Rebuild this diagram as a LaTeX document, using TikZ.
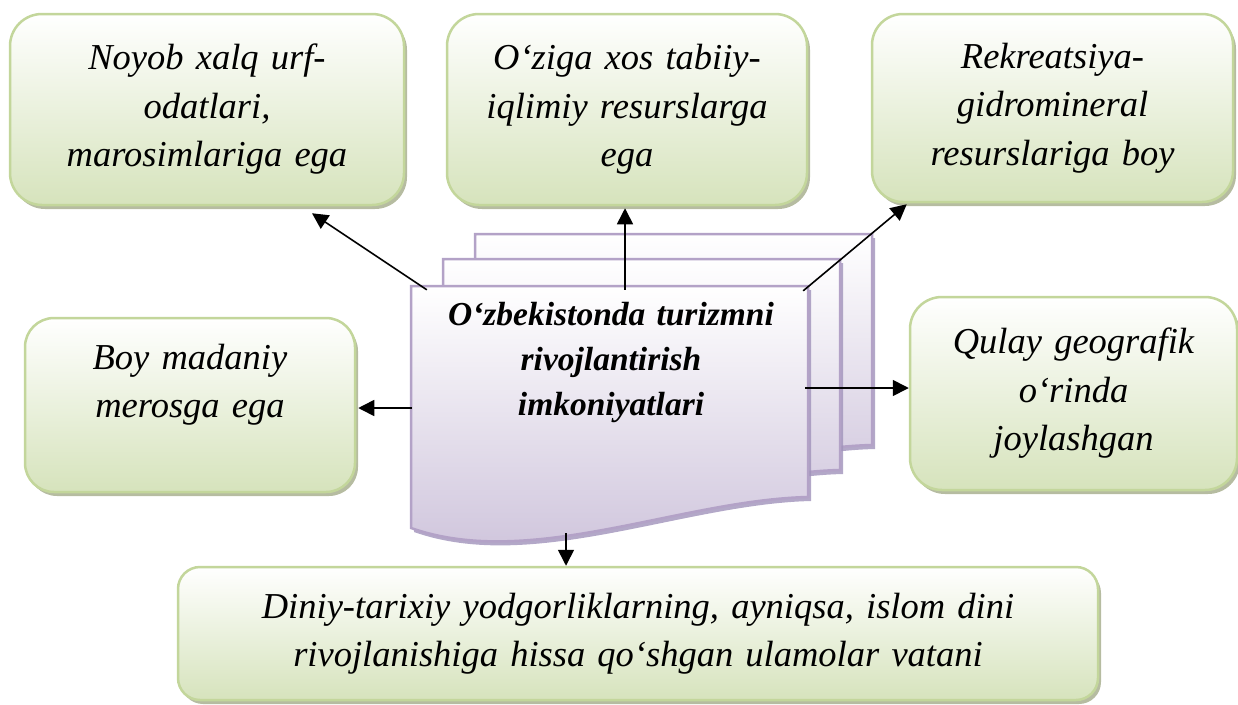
\documentclass[tikz,border=0pt]{standalone}
\usepackage{fontspec}
\setmainfont{Liberation Serif}
\usetikzlibrary{arrows.meta,calc,shadows}

\definecolor{boxedge}{RGB}{195,214,155}
\definecolor{boxlow}{RGB}{214,227,188}
\definecolor{boxshade}{RGB}{158,166,130}
\definecolor{pageedge}{RGB}{179,162,199}
\definecolor{pagelow}{RGB}{204,193,218}
\definecolor{pageshade}{RGB}{160,146,186}

\newcommand\greenfont{\fontsize{36.5}{48.5}\selectfont\itshape}
\newcommand\titlefont{\fontsize{33.5}{45}\selectfont\bfseries\itshape}

\tikzset{
  greenbox/.style={rounded corners=#1, draw=boxedge, line width=2.5pt,
    top color=white, bottom color=boxlow, inner sep=0pt,
    align=center, font=\greenfont,
    drop shadow={shadow xshift=3pt, shadow yshift=-4pt, fill=boxshade, opacity=0.75}},
  pagesheet/.style={draw=pageedge, line width=2.5pt, top color=white, bottom color=pagelow,
    drop shadow={shadow xshift=3pt, shadow yshift=-4pt, fill=pageshade, opacity=0.8}},
  arr/.style={-{Triangle[length=16pt,width=16pt]}, line width=1.6pt, black},
  docpage/.pic={
    \path[pagesheet] (0,0) -- (397,0) -- (397,211)
      .. controls (269,214) and (119,284) .. (0,242) -- cycle;
  }
}

\begin{document}
\begin{tikzpicture}[x=1pt,y=-1pt]
\useasboundingbox (0,0) rectangle (1238,704);

% outer boxes
\node[greenbox=32, minimum width=394, minimum height=191, text width=374] (b1) at (207,109.5)
  {Noyob xalq urf-\\odatlari,\\marosimlariga ega};
\node[greenbox=32, minimum width=360, minimum height=191, text width=340] (b2) at (627,109.5)
  {O‘ziga xos tabiiy-\\iqlimiy resurslarga\\ega};
\node[greenbox=31, minimum width=361, minimum height=188, text width=341] (b3) at (1052.5,108)
  {Rekreatsiya-\\gidromineral\\resurslariga boy};
\node[greenbox=29, minimum width=330, minimum height=174, text width=310] (b4) at (190,405)
  {Boy madaniy\\merosga ega\\\mbox{}};
\node[greenbox=32, minimum width=327, minimum height=193, text width=307] (b5) at (1073.5,393.5)
  {Qulay geografik\\o‘rinda\\joylashgan};
\node[greenbox=22, minimum width=920, minimum height=133, text width=900] (b6) at (638,633.5)
  {Diniy-tarixiy yodgorliklarning, ayniqsa, islom dini\\rivojlanishiga hissa qo‘shgan ulamolar vatani};

% stacked document sheets, back to front
\pic at (475,234) {docpage};
\pic at (443,259) {docpage};
\pic at (411,286) {docpage};

% frame of the front sheet and its title
\node[minimum width=397, minimum height=244, inner sep=0pt] (doc) at (609.5,408) {};
\node[anchor=base, text width=390, align=center, inner sep=0pt, font=\titlefont] (title) at (611,325)
  {O‘zbekistonda turizmni\\rivojlantirish\\imkoniyatlari};

% connectors
\draw[arr] ($(doc.north west)+(16,4)$) -- ($(b1.south)+(105,7)$);
\draw[arr] ($(doc.north)+(15.5,4)$) -- ($(b2.south)+(-2,2)$);
\draw[arr] ($(doc.north east)+(-5,5)$) -- ($(b3.south west)+(36,1)$);
\draw[arr] ($(doc.west)+(1,0)$) -- ($(b4.east)+(2,3)$);
\draw[arr] ($(doc.east)+(-3,-20)$) -- ($(b5.west)+(0,-5.5)$);
\draw[arr] ($(doc.south)+(-43.5,3)$) -- ($(b6.north)+(-72,0)$);
\end{tikzpicture}
\end{document}
